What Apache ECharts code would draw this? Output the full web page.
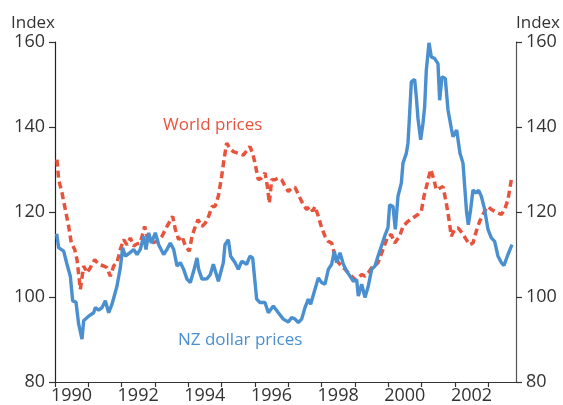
<!DOCTYPE html>
<html>
<head>
<meta charset="utf-8">
<script src="https://cdn.jsdelivr.net/npm/echarts@6/dist/echarts.min.js"></script>
<style>html,body{margin:0;padding:0;background:#fff;}#c{width:563px;height:405px;}</style>
</head>
<body>
<div id="c"></div>
<script>
// Decimal years and index values
const nzYears = [1990.05,1990.11,1990.26,1990.36,1990.46,1990.53,1990.63,1990.71,1990.81,1990.86,1991.01,1991.16,1991.21,1991.31,1991.41,1991.51,1991.61,1991.71,1991.86,1991.96,
1992.03,1992.11,1992.26,1992.36,1992.46,1992.56,1992.66,1992.73,1992.81,1992.89,1993.01,1993.11,1993.26,1993.36,1993.46,1993.56,1993.66,1993.76,1993.86,1993.96,
1994.06,1994.16,1994.26,1994.31,1994.41,1994.56,1994.66,1994.75,1994.90,1995.05,1995.10,1995.20,1995.27,1995.40,1995.50,1995.60,1995.75,1995.85,1995.93,
1996.05,1996.15,1996.30,1996.40,1996.55,1996.70,1996.85,1997.00,1997.10,1997.20,1997.30,1997.40,1997.50,1997.60,1997.67,1997.77,1997.90,
1998.00,1998.10,1998.20,1998.30,1998.38,1998.45,1998.55,1998.65,1998.75,1998.85,1998.95,1999.05,1999.10,1999.20,1999.30,1999.40,1999.50,1999.60,1999.69,1999.89,1999.99,
2000.04,2000.14,2000.21,2000.29,2000.39,2000.44,2000.54,2000.59,2000.64,2000.69,2000.79,2000.84,2000.89,2000.97,2001.04,2001.09,2001.14,2001.22,2001.29,2001.39,2001.49,2001.54,2001.61,2001.71,2001.79,2001.89,2001.94,
2002.05,2002.15,2002.24,2002.35,2002.40,2002.47,2002.54,2002.61,2002.71,2002.79,2002.89,2002.99,2003.09,2003.19,2003.29,2003.39,2003.47,2003.57,2003.71];
const nzValues = [114.9,111.6,110.8,107.7,104.9,99.1,98.8,93.6,90.1,94.4,95.5,96.3,97.5,96.9,97.5,99.1,96.3,98.3,102.6,106.9,
111.6,109.6,110.5,111.2,110.0,111.2,114.3,111.2,115.1,112.7,115.1,112.3,110.0,111.2,112.7,111.2,107.3,108.1,106.5,104.2,
103.4,106.1,109.2,106.5,104.2,104.3,105.3,107.7,103.7,108.1,112.3,113.5,109.6,108.1,106.5,108.4,107.7,109.6,109.2,
99.5,98.7,98.7,96.3,97.9,96.3,94.8,94.1,95.2,94.8,94.0,94.8,97.5,99.5,98.3,101.0,104.5,
103.4,103.0,106.5,107.7,110.8,108.1,110.4,107.7,106.1,104.9,103.7,104.1,100.2,103.0,99.9,102.6,106.5,107.3,109.6,114.3,116.3,
121.7,121.3,115.9,123.7,126.8,131.5,133.8,136.2,143.2,150.6,151.2,147.1,142.0,137.0,140.9,144.8,153.4,159.8,156.5,156.1,154.9,146.3,151.8,151.4,144.0,139.7,137.7,
139.3,133.8,131.5,119.8,117.0,120.6,125.2,124.5,125.1,123.7,120.6,115.9,113.9,113.1,109.6,108.1,107.4,109.6,112.3];

const worldYears = [1990.06,1990.11,1990.21,1990.31,1990.41,1990.49,1990.59,1990.66,1990.76,1990.86,1990.96,1991.06,1991.19,1991.31,1991.46,1991.56,1991.66,1991.76,1991.86,1991.96,
1992.06,1992.16,1992.26,1992.36,1992.46,1992.56,1992.69,1992.76,1992.91,1993.06,1993.21,1993.36,1993.53,1993.61,1993.71,1993.81,1993.91,
1994.03,1994.11,1994.21,1994.29,1994.41,1994.51,1994.61,1994.71,1994.80,1994.90,1995.00,1995.07,1995.15,1995.25,1995.35,1995.50,1995.65,1995.77,1995.85,1995.93,
1996.00,1996.10,1996.20,1996.30,1996.37,1996.43,1996.50,1996.60,1996.70,1996.80,1996.90,1997.00,1997.10,1997.20,1997.35,1997.45,1997.55,1997.65,1997.73,1997.80,1997.90,
1998.00,1998.10,1998.20,1998.30,1998.40,1998.50,1998.60,1998.70,1998.80,1998.90,1999.00,1999.10,1999.20,1999.30,1999.40,1999.50,1999.60,1999.69,1999.84,1999.99,
2000.09,2000.19,2000.34,2000.44,2000.59,2000.74,2000.89,2000.99,2001.07,2001.17,2001.27,2001.37,2001.44,2001.54,2001.64,2001.74,2001.82,2001.89,2001.99,
2002.09,2002.21,2002.34,2002.44,2002.54,2002.64,2002.74,2002.89,2002.99,2003.09,2003.19,2003.29,2003.39,2003.49,2003.59,2003.69];
const worldValues = [132.3,127.6,124.5,120.6,116.6,112.7,111.2,108.8,101.8,107.3,105.7,106.9,108.8,107.7,107.3,106.9,104.9,107.3,108.1,111.2,
113.5,112.3,113.9,112.0,112.5,112.7,116.6,114.3,112.7,113.1,114.3,116.6,119.0,115.9,113.5,114.3,112.0,
110.8,114.3,116.6,118.2,116.6,117.4,119.0,121.3,121.3,123.7,128.4,132.3,136.2,135.0,134.2,133.8,133.4,134.6,135.4,133.8,
131.5,127.6,128.0,129.2,126.1,122.1,127.6,127.6,128.0,127.6,126.1,124.8,125.6,125.8,123.3,121.7,120.6,121.3,120.2,121.3,119.0,
116.3,114.3,113.1,112.7,109.6,108.1,107.3,106.5,105.7,104.9,104.1,104.5,105.3,104.9,105.7,106.9,107.3,108.1,111.2,114.3,
114.7,112.7,114.3,116.6,117.8,118.6,119.4,120.2,123.7,126.8,130.0,127.6,125.2,125.6,126.0,122.1,118.2,114.3,115.9,
116.3,115.1,113.5,112.3,112.7,115.5,117.8,120.2,121.3,120.6,120.2,119.8,119.4,120.6,122.9,127.6];

const yearLabels = [1990,1992,1994,1996,1998,2000,2002];
const yTicks = [80,100,120,140,160];

const BLUE = '#4a8fcf';
const RED = '#e8533c';
const FONT = '"Open Sans", "Noto Sans", sans-serif';

const chart = echarts.init(document.getElementById('c'), null, {renderer: 'canvas'});
const yAxisBase = {
  type: 'value', min: yTicks[0], max: yTicks[yTicks.length - 1], interval: 20,
  name: 'Index', nameLocation: 'end', nameGap: 10,
  splitLine: {show: false},
  axisTick: {show: true, length: 6, lineStyle: {color: '#333', width: 1.2}},
  axisLabel: {fontSize: 18, color: '#333', fontFamily: FONT, margin: 10},
};
chart.setOption({
  animation: false,
  grid: {left: 55, right: 47, top: 42, bottom: 22, containLabel: false},
  xAxis: {
    type: 'value', min: 1990, max: 2003.83, interval: 1,
    splitLine: {show: false},
    axisLine: {lineStyle: {color: '#333', width: 1.2}},
    axisTick: {show: true, length: 5, lineStyle: {color: '#333', width: 1.2}},
    axisLabel: {
      margin: 5, color: '#333', fontFamily: FONT, fontSize: 18,
      showMaxLabel: false,
      formatter: v => yearLabels.indexOf(v) >= 0 ? '{a|' + v + '}' : '',
      rich: {a: {fontSize: 18, color: '#333', fontFamily: FONT, padding: [0, 0, 0, 33]}}
    }
  },
  yAxis: [
    Object.assign({}, yAxisBase, {
      position: 'left',
      axisLine: {show: true, lineStyle: {color: '#222', width: 1.2}},
      nameTextStyle: {fontSize: 17, color: '#333', fontFamily: FONT, align: 'right', verticalAlign: 'bottom'}
    }),
    Object.assign({}, yAxisBase, {
      position: 'right',
      axisLine: {show: true, lineStyle: {color: '#555', width: 1.2}},
      nameTextStyle: {fontSize: 17, color: '#333', fontFamily: FONT, align: 'left', verticalAlign: 'bottom'}
    })
  ],
  series: [
    {
      name: 'World prices', type: 'line', yAxisIndex: 0, showSymbol: false, smooth: false,
      data: worldYears.map((y, i) => [y, worldValues[i]]),
      lineStyle: {color: RED, width: 3.5, type: [7, 4], cap: 'butt'},
      z: 2
    },
    {
      name: 'NZ dollar prices', type: 'line', yAxisIndex: 0, showSymbol: false, smooth: false,
      data: nzYears.map((y, i) => [y, nzValues[i]]),
      lineStyle: {color: BLUE, width: 3.4},
      z: 3
    }
  ],
  graphic: [
    {type: 'text', left: 163, top: 117, style: {text: 'World prices', fill: RED, font: '17px ' + FONT}},
    {type: 'text', left: 178, top: 332, style: {text: 'NZ dollar prices', fill: BLUE, font: '17px ' + FONT}}
  ]
});
</script>
</body>
</html>
